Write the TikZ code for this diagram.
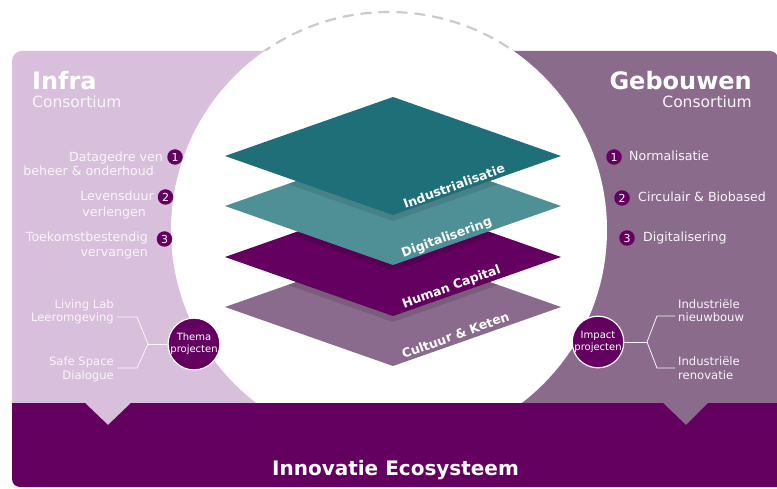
\documentclass[tikz,border=0pt]{standalone}
\usepackage{fontspec}
\setmainfont{DejaVu Sans}
\definecolor{lilac}{HTML}{D8BFDB}
\definecolor{mauve}{HTML}{8A6B8B}
\definecolor{purp}{HTML}{64005F}
\definecolor{tealdark}{HTML}{1F6F79}
\definecolor{teallight}{HTML}{4F9097}
\definecolor{layermauve}{HTML}{8B6B8D}
\definecolor{lighttxt}{HTML}{FBF5FB}
\definecolor{dashgrey}{HTML}{CBCBCB}
\newcommand\layerpath[1]{(393,#1+59) -- (561,#1) -- (393,#1-59) -- (225,#1) -- cycle}
\begin{document}
\begin{tikzpicture}[x=1pt,y=1pt,
  lt/.style={text=lighttxt, font=\fontsize{12.6}{14}\selectfont, inner sep=0pt, text height=8.8pt, text depth=2.6pt},
  sm/.style={text=lighttxt, font=\fontsize{11.6}{13}\selectfont, inner sep=0pt, text height=8.3pt, text depth=2.4pt},
  num/.style={circle, fill=purp, text=white, inner sep=0pt, minimum size=15.5pt, font=\fontsize{11}{11}\selectfont},
  layerlbl/.style={text=white, font=\fontsize{12.5}{14}\selectfont\bfseries, rotate=20, inner sep=0pt},
  proj/.style={circle, fill=purp, draw=white, line width=1.2pt, text=white, align=center, inner sep=0pt, minimum size=49pt, font=\fontsize{10}{12}\selectfont},
  brk/.style={draw=lighttxt, line width=0.8pt},
  ttl/.style={text=white, font=\fontsize{24}{24}\selectfont\bfseries, inner sep=0pt},
  sub/.style={text=lighttxt, font=\fontsize{15.5}{15.5}\selectfont, inner sep=0pt}
]
\useasboundingbox (0,0) rectangle (777,488);
\fill[white] (0,0) rectangle (777,488);
% panels
\fill[lilac, rounded corners=10] (12,60) rectangle (392,437);
\fill[mauve, rounded corners=8] (390,60) rectangle (778,437);
% big circle
\fill[white] (389,258) circle[radius=218];
\begin{scope}
  \clip (0,437) rectangle (777,488);
  \draw[dashgrey, line width=2.2pt, dash pattern=on 11pt off 7pt] (389,258) circle[radius=218];
\end{scope}
% band
\fill[purp] (12,85) -- (12,9) arc[start angle=180, end angle=270, radius=8] -- (800,1) -- (800,85)
  -- (708,85) -- (686,63) -- (663,85) -- (131,85) -- (108,63) -- (85,85) -- cycle;
% layers
\fill[layermauve] \layerpath{181};
\begin{scope}\clip \layerpath{181}; \fill[black, opacity=.12] \layerpath{225}; \end{scope}
\fill[purp] \layerpath{231};
\begin{scope}\clip \layerpath{231}; \fill[black, opacity=.12] \layerpath{276}; \end{scope}
\fill[teallight] \layerpath{282};
\begin{scope}\clip \layerpath{282}; \fill[black, opacity=.1] \layerpath{326}; \end{scope}
\fill[tealdark] \layerpath{332};
\node[layerlbl] (l1) at (454,302) {Industrialisatie};
\node[layerlbl] (l2) at (447,250) {Digitalisering};
\node[layerlbl] (l3) at (451.5,200.5) {Human Capital};
\node[layerlbl] (l4) at (455.5,153) {Cultuur \& Keten};
% titles
\node[ttl, anchor=base west] (infra) at (32,398) {Infra};
\node[sub, anchor=base west] (infrac) at (32,380) {Consortium};
\node[ttl, anchor=base east] (geb) at (752,398) {Gebouwen};
\node[sub, anchor=base east] (gebc) at (752,380) {Consortium};
% left list
\node[lt, anchor=east] (a1) at (163,330) {Datagedre ven};
\node[lt, anchor=east] (a1b) at (154,316) {beheer \& onderhoud};
\node[num] (n1) at (175,331) {1};
\node[lt, anchor=east] (a2) at (154,291) {Levensduur};
\node[lt, anchor=east] (a2b) at (146,275) {verlengen};
\node[num] (n2) at (165.5,291) {2};
\node[lt, anchor=east] (a3) at (148,250) {Toekomstbestendig};
\node[lt, anchor=east] (a3b) at (148,235) {vervangen};
\node[num] (n3) at (164.5,249) {3};
% right list
\node[num] (m1) at (614,331) {1};
\node[lt, anchor=west] (b1) at (629,331) {Normalisatie};
\node[num] (m2) at (622,290) {2};
\node[lt, anchor=west] (b2) at (638,290) {Circulair \& Biobased};
\node[num] (m3) at (627,250) {3};
\node[lt, anchor=west] (b3) at (643,250) {Digitalisering};
% thema projecten
\node[proj] (thema) at (194,144) {Thema\\projecten};
\node[sm, anchor=east] (ll) at (114,182) {Living Lab};
\node[sm, anchor=east] (leer) at (114,169) {Leeromgeving};
\node[sm, anchor=east] (safe) at (114,125) {Safe Space};
\node[sm, anchor=east] (dial) at (114,111) {Dialogue};
\coordinate (jl) at (148,144);
\coordinate (tl1) at (117,171);
\coordinate (tl2) at (137,171);
\coordinate (bl1) at (117,120);
\coordinate (bl2) at (137,120);
\draw[brk] (tl1) -- (tl2) -- (jl) -- (bl2) -- (bl1);
\draw[brk] (jl) -- (thema);
% impact projecten
\node[proj] (impact) at (598,146) {Impact\\projecten};
\node[sm, anchor=west] (in1) at (678,182) {Industriële};
\node[sm, anchor=west] (nb) at (678,169) {nieuwbouw};
\node[sm, anchor=west] (in2) at (678,125) {Industriële};
\node[sm, anchor=west] (ren) at (678,111) {renovatie};
\coordinate (jr) at (647,146);
\coordinate (tr1) at (675,172);
\coordinate (tr2) at (657,172);
\coordinate (br1) at (675,120);
\coordinate (br2) at (657,120);
\draw[brk] (tr1) -- (tr2) -- (jr) -- (br2) -- (br1);
\draw[brk] (impact) -- (jr);
% band text
\node[text=white, font=\fontsize{20}{20}\selectfont\bfseries, inner sep=0pt] (eco) at (395.5,18) {Innovatie Ecosysteem};
\end{tikzpicture}
\end{document}
